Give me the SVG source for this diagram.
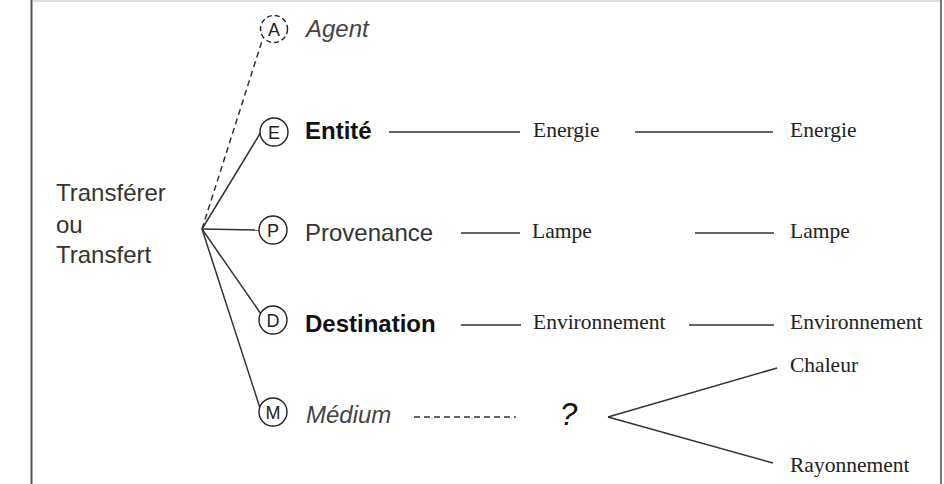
<svg xmlns="http://www.w3.org/2000/svg" width="944" height="484" viewBox="0 0 944 484">
<style>
.sans{font-family:"Liberation Sans",Arial,sans-serif;font-size:24px;fill:#333}
.bold{font-weight:bold;fill:#111}
.it{font-style:italic;fill:#444}
.serif{font-family:"Liberation Serif","Times New Roman",serif;font-size:21.5px;fill:#222}
.ln{stroke:#333;stroke-width:1.5;fill:none}
.dash{stroke-dasharray:6 4}
.circ{fill:#fff;stroke:#222;stroke-width:1.4}
.ctext{font-family:"Liberation Sans",Arial,sans-serif;font-size:18px;fill:#222;text-anchor:middle}
</style>
<rect width="944" height="484" fill="#fff"/>
<line x1="33" y1="1" x2="940" y2="1" stroke="#ddd" stroke-width="2"/>
<line x1="31.5" y1="0" x2="31.5" y2="484" stroke="#555" stroke-width="2"/>
<line x1="941" y1="0" x2="941" y2="484" stroke="#777" stroke-width="2"/>

<g id="connectors">
<line class="ln dash" x1="202" y1="229" x2="262" y2="41"/>
<line class="ln" x1="202" y1="229" x2="261" y2="132"/>
<line class="ln" x1="202" y1="229" x2="259" y2="230"/>
<line class="ln" x1="202" y1="229" x2="261" y2="314"/>
<line class="ln" x1="202" y1="229" x2="260" y2="408"/>
<line class="ln" x1="389" y1="132" x2="520" y2="132"/>
<line class="ln" x1="635" y1="132" x2="773" y2="132"/>
<line class="ln" x1="461" y1="233" x2="520" y2="233"/>
<line class="ln" x1="695" y1="233" x2="774" y2="233"/>
<line class="ln" x1="461" y1="325" x2="521" y2="325"/>
<line class="ln" x1="689" y1="325" x2="774" y2="325"/>
<line class="ln dash" x1="414" y1="417" x2="516" y2="417"/>
<line class="ln" x1="608" y1="417" x2="777" y2="368"/>
<line class="ln" x1="608" y1="417" x2="773" y2="463"/>
</g>

<g id="transferer">
<text class="sans" x="56" y="201">Transférer</text>
<text class="sans" x="56" y="233">ou</text>
<text class="sans" x="56" y="263">Transfert</text>
</g>

<g id="agent">
<circle class="circ dash" cx="274" cy="29" r="13.5" style="stroke-dasharray:5 3"/>
<text class="ctext" x="274" y="35.5">A</text>
<text class="sans it" x="306" y="37">Agent</text>
</g>

<g id="entite">
<circle class="circ" cx="274" cy="132" r="14"/>
<text class="ctext" x="274" y="138.5">E</text>
<text class="sans bold" x="305" y="139">Entité</text>
</g>

<g id="provenance">
<circle class="circ" cx="273" cy="230" r="14"/>
<text class="ctext" x="273" y="236.5">P</text>
<text class="sans" x="305" y="241">Provenance</text>
</g>

<g id="destination">
<circle class="circ" cx="273" cy="320" r="14"/>
<text class="ctext" x="273" y="326.5">D</text>
<text class="sans bold" x="305" y="332">Destination</text>
</g>

<g id="medium">
<circle class="circ" cx="273" cy="412" r="14"/>
<text class="ctext" x="273" y="418.5">M</text>
<text class="sans it" x="306" y="423">Médium</text>
</g>

<g id="question">
<text class="sans it" x="560" y="425" style="font-size:31px;fill:#111">?</text>
</g>

<g id="energie1"><text class="serif" x="533" y="137">Energie</text></g>
<g id="energie2"><text class="serif" x="790" y="137">Energie</text></g>
<g id="lampe1"><text class="serif" x="532" y="238">Lampe</text></g>
<g id="lampe2"><text class="serif" x="790" y="238">Lampe</text></g>
<g id="environnement1"><text class="serif" x="533" y="329">Environnement</text></g>
<g id="environnement2"><text class="serif" x="790" y="329">Environnement</text></g>
<g id="chaleur"><text class="serif" x="790" y="372">Chaleur</text></g>
<g id="rayonnement"><text class="serif" x="790" y="472">Rayonnement</text></g>
</svg>
